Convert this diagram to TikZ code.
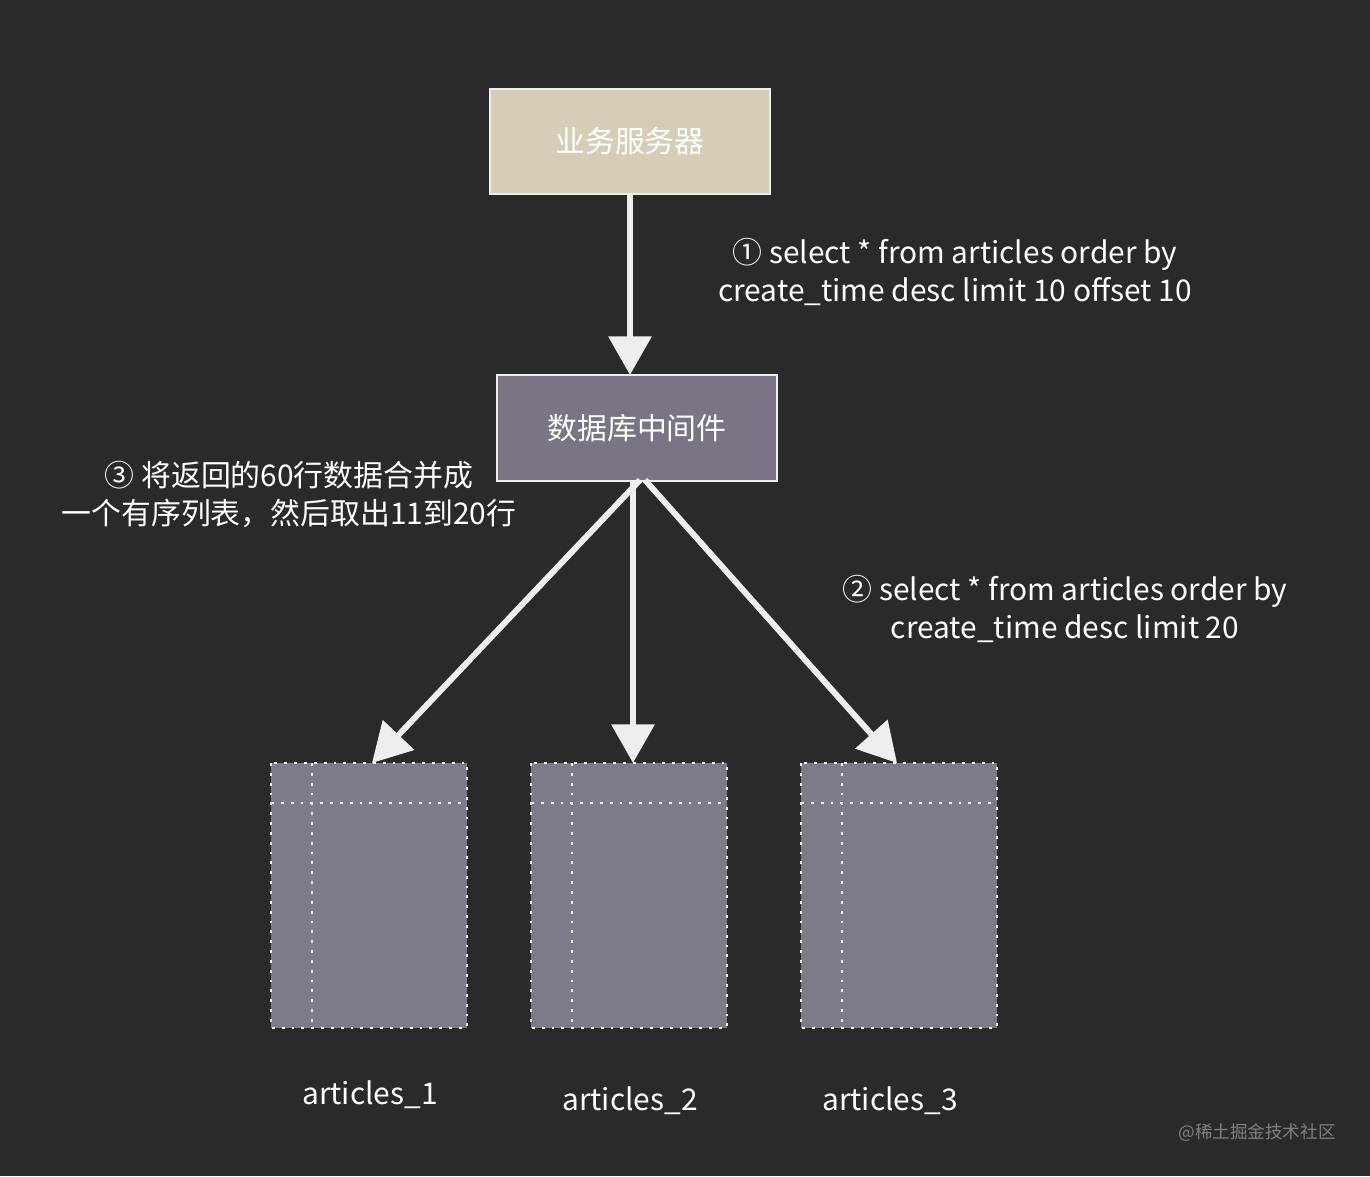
\documentclass[tikz,border=0pt]{standalone}
\usepackage{fontspec}
\setmainfont{Noto Sans CJK SC}
\usetikzlibrary{arrows.meta}
\definecolor{bg}{HTML}{2A2A2A}
\definecolor{tan}{HTML}{D5CDB6}
\definecolor{mid}{HTML}{7A7484}
\definecolor{tbl}{HTML}{7E7A87}
\definecolor{ln}{HTML}{EEEEEE}
\tikzset{
  box/.style={draw=ln, line width=0.4pt},
  arr/.style={draw=ln, line width=1.7pt, -{Triangle[length=11pt,width=12pt]}},
  tblbox/.style={fill=tbl, draw=ln!70, dotted, line width=0.8pt},
  lbl/.style={text=white, font=\fontsize{8.5}{10.8}\selectfont, align=center},
}
\begin{document}
\begin{tikzpicture}[x=0.01cm,y=-0.01cm]
\fill[bg] (0,0) rectangle (1370,1176);
\useasboundingbox (0,0) rectangle (1370,1176);
\node[box, fill=tan, minimum width=2.8cm, minimum height=1.05cm, text=white, font=\fontsize{8.5}{10}\selectfont] (srv) at (630,141.5) {业务服务器};
\node[box, fill=mid, minimum width=2.8cm, minimum height=1.06cm, text=white, font=\fontsize{8.5}{10}\selectfont] (mw) at (637,428) {数据库中间件};
\draw[arr] (srv.south -| 630,0) -- (630,375);
\foreach \n/\x in {t1/271,t2/531,t3/801}{
  \draw[tblbox] (\x,763) rectangle ++(196,265);
  \draw[ln!70, dotted, line width=0.8pt] (\x,803) -- ++(196,0);
  \draw[ln!70, dotted, line width=0.8pt] (\x+41,763) -- ++(0,265);
  \coordinate (\n) at (\x+98,763);
}
\coordinate (a1) at (372,763);
\coordinate (a2) at (633,763);
\coordinate (a3) at (897,763);
\draw[arr] (640,480) -- (a1);
\draw[arr] (633,480) -- (a2);
\draw[arr] (645,480) -- (a3);
\node[lbl] (l1) at (370,1095) {articles\_1};
\node[lbl] (l2) at (630,1101) {articles\_2};
\node[lbl] (l3) at (890,1101) {articles\_3};
\node[lbl] (q1) at (955,272) {① select * from articles order by\\create\_time desc limit 10 offset 10};
\node[lbl] (q2) at (1065,609) {② select * from articles order by\\create\_time desc limit 20};
\node[lbl] (q3) at (289,494) {③ 将返回的60行数据合并成\\一个有序列表，然后取出11到20行};
\node[text=gray, font=\fontsize{5}{6}\selectfont] (wm) at (1257,1133) {@稀土掘金技术社区};
\end{tikzpicture}
\end{document}
